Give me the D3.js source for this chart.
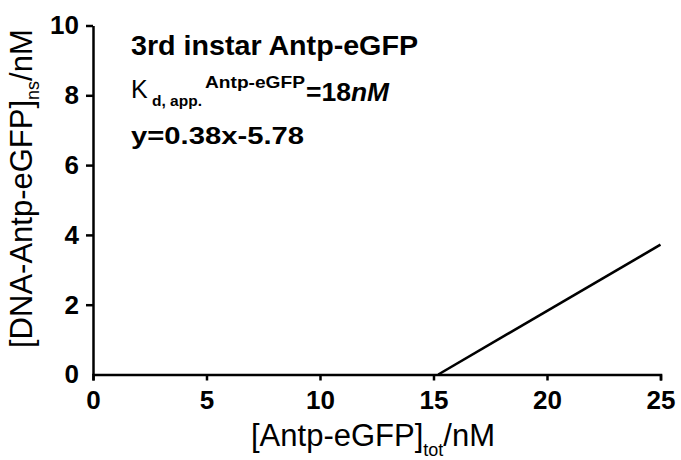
<!DOCTYPE html>
<html>
<head>
<meta charset="utf-8">
<style>
body { margin: 0; background: #fff; }
svg { display: block; font-family: "Liberation Sans", Arial, sans-serif; }
.axis path, .axis line { stroke: #000; stroke-width: 2.5px; }
.axis text { font-size: 26px; font-weight: bold; fill: #000; font-family: "Liberation Sans", Arial, sans-serif; }
.fit { fill: none; stroke: #000; stroke-width: 2.6px; }
.note { font-weight: bold; fill: #000; }
</style>
</head>
<body>
<svg width="681" height="460"></svg>
<script src="https://cdn.jsdelivr.net/npm/d3@7"></script>
<script>

// axis ticks
var xTicks = [0, 5, 10, 15, 20, 25];
var yTicks = [0, 2, 4, 6, 8, 10];

// fitted line y=0.38x-5.78, clipped at y=0
var fitX = [15.21, 25];
var fitY = [0, 3.72];

var svg = d3.select("svg"),
    margin = {top: 25.5, right: 20.5, bottom: 85.5, left: 93},
    width = +svg.attr("width") - margin.left - margin.right,
    height = +svg.attr("height") - margin.top - margin.bottom;

var g = svg.append("g")
    .attr("transform", "translate(" + margin.left + "," + margin.top + ")");

var x = d3.scaleLinear().domain([0, 25]).range([0, width]);
var y = d3.scaleLinear().domain([0, 10]).range([height, 0]);

var xAxis = d3.axisBottom(x)
    .tickValues(xTicks)
    .tickSize(6)
    .tickSizeOuter(6)
    .tickPadding(10);
var yAxis = d3.axisLeft(y)
    .tickValues(yTicks)
    .tickSize(7)
    .tickSizeOuter(0)
    .tickPadding(7);

g.append("g")
    .attr("class", "axis axis--x")
    .attr("transform", "translate(0," + height + ")")
    .call(xAxis);

g.append("g")
    .attr("class", "axis axis--y")
    .call(yAxis);

// no separate tick at the origin on the y axis
g.select(".axis--y").selectAll(".tick").filter(function(d) { return d === 0; })
    .select("line").remove();

var pts = fitX.map(function(d, i) { return [d, fitY[i]]; });
var line = d3.line()
    .x(function(d) { return x(d[0]); })
    .y(function(d) { return y(d[1]); });

g.append("path")
    .attr("class", "fit")
    .attr("d", line(pts));

// axis titles
var xt = svg.append("text")
    .attr("x", 251)
    .attr("y", 446)
    .style("font-size", "31px");
xt.append("tspan").text("[Antp-eGFP]");
xt.append("tspan").attr("dy", 10).style("font-size", "18px").text("tot");
xt.append("tspan").attr("dy", -10).text("/nM");

var yt = svg.append("text")
    .attr("transform", "translate(32,348) rotate(-90)")
    .style("font-size", "31px");
yt.append("tspan").text("[DNA-Antp-eGFP]");
yt.append("tspan").attr("dy", 7).style("font-size", "18px").text("ns");
yt.append("tspan").attr("dy", -7).text("/nM");

// annotations
svg.append("text").attr("class", "note")
    .attr("x", 131).attr("y", 55)
    .attr("textLength", 287).attr("lengthAdjust", "spacingAndGlyphs")
    .style("font-size", "28px")
    .text("3rd instar Antp-eGFP");

svg.append("text")
    .attr("x", 131).attr("y", 98)
    .style("font-size", "25px")
    .text("K");
svg.append("text").attr("class", "note")
    .attr("x", 152).attr("y", 106)
    .attr("textLength", 50).attr("lengthAdjust", "spacingAndGlyphs")
    .style("font-size", "15px")
    .text("d, app.");
svg.append("text").attr("class", "note")
    .attr("x", 205).attr("y", 88)
    .attr("textLength", 100).attr("lengthAdjust", "spacingAndGlyphs")
    .style("font-size", "17px")
    .text("Antp-eGFP");
svg.append("text").attr("class", "note")
    .attr("x", 306).attr("y", 101)
    .attr("textLength", 45).attr("lengthAdjust", "spacingAndGlyphs")
    .style("font-size", "25px")
    .text("=18");
svg.append("text").attr("class", "note")
    .attr("x", 351).attr("y", 101)
    .attr("textLength", 38).attr("lengthAdjust", "spacingAndGlyphs")
    .style("font-size", "25px").style("font-style", "italic")
    .text("nM");

svg.append("text").attr("class", "note")
    .attr("x", 131).attr("y", 144)
    .attr("textLength", 173).attr("lengthAdjust", "spacingAndGlyphs")
    .style("font-size", "24px")
    .text("y=0.38x-5.78");

</script>
</body>
</html>
